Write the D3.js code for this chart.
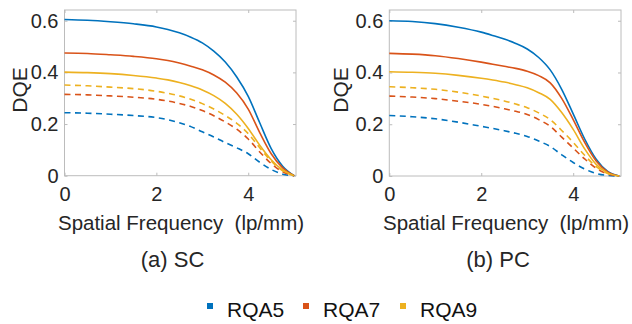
<!DOCTYPE html>
<html>
<head>
<meta charset="utf-8">
<script src="https://cdn.jsdelivr.net/npm/d3@7/dist/d3.min.js"></script>
<style>
  html, body { margin: 0; padding: 0; background: #fff; }
  svg { display: block; font-family: "Liberation Sans", Arial, sans-serif; }
</style>
</head>
<body>
<svg id="chart" width="632" height="324"></svg>
<script>
// ---------- data ----------
const freq = [0, 0.5, 1, 1.5, 2, 2.25, 2.5, 2.75, 3, 3.25, 3.5, 3.75, 4, 4.25, 4.5, 4.75, 5];
const xTicks = [0, 2, 4];
const yTicks = [0, 0.2, 0.4, 0.6];
const yTickLabels = ["0", "0.2", "0.4", "0.6"];
const seriesNames = ["RQA5", "RQA7", "RQA9"];
const panelCaptions = ["(a) SC", "(b) PC"];

// (a) SC
const scRQA5Solid  = [0.605, 0.602, 0.596, 0.588, 0.576, 0.566, 0.553, 0.536, 0.514, 0.482, 0.440, 0.382, 0.307, 0.205, 0.105, 0.037, 0];
const scRQA7Solid  = [0.475, 0.473, 0.468, 0.462, 0.453, 0.446, 0.436, 0.424, 0.410, 0.390, 0.362, 0.320, 0.258, 0.167, 0.085, 0.030, 0];
const scRQA9Solid  = [0.401, 0.399, 0.395, 0.388, 0.378, 0.371, 0.361, 0.348, 0.332, 0.310, 0.280, 0.238, 0.183, 0.118, 0.062, 0.022, 0];
const scRQA5Dashed = [0.244, 0.242, 0.238, 0.233, 0.225, 0.217, 0.205, 0.190, 0.170, 0.150, 0.128, 0.108, 0.085, 0.052, 0.024, 0.006, 0];
const scRQA7Dashed = [0.315, 0.313, 0.309, 0.304, 0.296, 0.289, 0.280, 0.268, 0.252, 0.232, 0.208, 0.180, 0.142, 0.092, 0.047, 0.015, 0];
const scRQA9Dashed = [0.351, 0.348, 0.343, 0.337, 0.327, 0.319, 0.309, 0.296, 0.279, 0.258, 0.233, 0.203, 0.163, 0.108, 0.057, 0.019, 0];

// (b) PC
const pcRQA5Solid  = [0.600, 0.597, 0.589, 0.575, 0.556, 0.543, 0.529, 0.512, 0.491, 0.458, 0.410, 0.335, 0.240, 0.143, 0.065, 0.018, 0];
const pcRQA7Solid  = [0.474, 0.471, 0.465, 0.454, 0.440, 0.432, 0.424, 0.416, 0.405, 0.388, 0.360, 0.300, 0.218, 0.130, 0.058, 0.016, 0];
const pcRQA9Solid  = [0.403, 0.401, 0.397, 0.389, 0.378, 0.371, 0.363, 0.353, 0.341, 0.322, 0.296, 0.245, 0.180, 0.105, 0.045, 0.012, 0];
const pcRQA5Dashed = [0.234, 0.229, 0.221, 0.208, 0.192, 0.184, 0.175, 0.165, 0.153, 0.135, 0.114, 0.082, 0.052, 0.027, 0.010, 0.002, 0];
const pcRQA7Dashed = [0.309, 0.305, 0.299, 0.289, 0.277, 0.269, 0.260, 0.250, 0.238, 0.218, 0.192, 0.150, 0.108, 0.066, 0.030, 0.008, 0];
const pcRQA9Dashed = [0.345, 0.341, 0.335, 0.324, 0.309, 0.300, 0.290, 0.278, 0.264, 0.244, 0.218, 0.176, 0.130, 0.080, 0.036, 0.010, 0];

// ---------- styling ----------
const colors = ["#0072BD", "#D95319", "#EDB120"];
const textColor = "#262626";
const boxColor = "#bcbcbc";

const panels = [
  { left: 64.5, right: 296, top: 10, bottom: 175.7, caption: panelCaptions[0], captionX: 172.5, titleX: 181, dqeX: 27,
    solid: [scRQA5Solid, scRQA7Solid, scRQA9Solid], dashed: [scRQA5Dashed, scRQA7Dashed, scRQA9Dashed] },
  { left: 389.3, right: 621, top: 10, bottom: 176, caption: panelCaptions[1], captionX: 498, titleX: 506, dqeX: 348,
    solid: [pcRQA5Solid, pcRQA7Solid, pcRQA9Solid], dashed: [pcRQA5Dashed, pcRQA7Dashed, pcRQA9Dashed] }
];

const svg = d3.select("#chart");

panels.forEach(p => {
  const x = d3.scaleLinear().domain([0, 5.04]).range([p.left, p.right]);
  const y = d3.scaleLinear().domain([0, 0.6415]).range([p.bottom, p.top]);
  const g = svg.append("g");

  // box
  g.append("rect")
    .attr("x", p.left).attr("y", p.top)
    .attr("width", p.right - p.left).attr("height", p.bottom - p.top)
    .attr("fill", "none").attr("stroke", boxColor).attr("stroke-width", 1);

  const styleAxis = sel => {
    sel.select(".domain").remove();
    sel.selectAll(".tick line").attr("stroke", boxColor);
    sel.selectAll(".tick text").attr("fill", textColor).style("font-size", "20px")
      .style("font-family", "'Liberation Sans', Arial, sans-serif");
  };
  g.append("g").attr("transform", `translate(${p.left},0)`)
    .call(d3.axisLeft(y).tickValues(yTicks).tickFormat((d, i) => yTickLabels[i]).tickSize(-3).tickPadding(6))
    .call(styleAxis);
  g.append("g").attr("transform", `translate(${p.right},0)`)
    .call(d3.axisRight(y).tickValues(yTicks).tickSize(-3).tickFormat(""))
    .call(styleAxis);
  g.append("g").attr("transform", `translate(0,${p.bottom})`)
    .call(d3.axisBottom(x).tickValues(xTicks).tickFormat(d3.format("d")).tickSize(-3).tickPadding(11))
    .call(styleAxis);
  g.append("g").attr("transform", `translate(0,${p.top})`)
    .call(d3.axisTop(x).tickValues(xTicks).tickSize(-3).tickFormat(""))
    .call(styleAxis);

  const line = arr => d3.line()
    .x((d, i) => x(freq[i]))
    .y(d => y(d))
    .curve(d3.curveMonotoneX)(arr);

  p.dashed.forEach((arr, k) => {
    g.append("path").attr("d", line(arr)).attr("fill", "none")
      .attr("stroke", colors[k]).attr("stroke-width", 1.6)
      .attr("stroke-dasharray", "6,4.5");
  });
  p.solid.forEach((arr, k) => {
    g.append("path").attr("d", line(arr)).attr("fill", "none")
      .attr("stroke", colors[k]).attr("stroke-width", 1.6);
  });

  g.append("text")
    .attr("transform", `translate(${p.dqeX},90) rotate(-90)`)
    .attr("text-anchor", "middle")
    .attr("fill", textColor).style("font-size", "21px")
    .text("DQE");

  g.append("text")
    .attr("x", p.titleX).attr("y", 230)
    .attr("text-anchor", "middle")
    .attr("fill", textColor).style("font-size", "20.5px")
    .style("white-space", "pre")
    .text("Spatial Frequency  (lp/mm)");

  g.append("text")
    .attr("x", p.captionX).attr("y", 267)
    .attr("text-anchor", "middle")
    .attr("fill", textColor).style("font-size", "22px")
    .text(p.caption);
});

// legend
const legendX = [207, 303, 400];
const lg = svg.append("g");
seriesNames.forEach((name, i) => {
  lg.append("rect").attr("x", legendX[i]).attr("y", 303).attr("width", 6).attr("height", 6).attr("fill", colors[i]);
  lg.append("text").attr("x", legendX[i] + 20).attr("y", 316.5)
    .attr("fill", "#111").style("font-size", "21px").text(name);
});
</script>
</body>
</html>
